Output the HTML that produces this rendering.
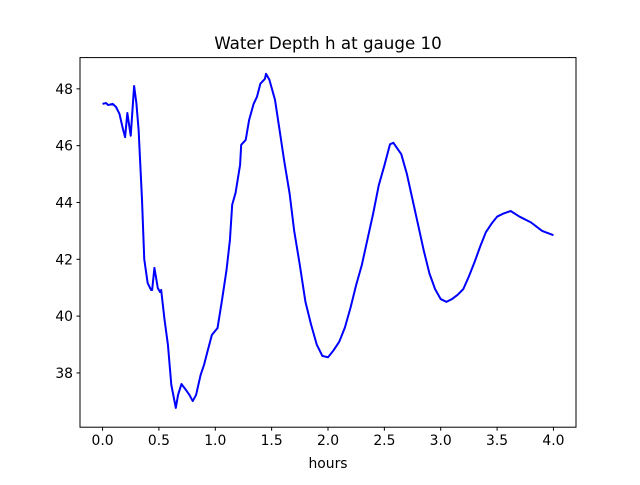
<!DOCTYPE html>
<html><head><meta charset="utf-8"><style>
body{margin:0;background:#fff}
svg text{font-family:"DejaVu Sans","Liberation Sans",sans-serif;fill:#000}
</style></head><body>
<svg id="chart" width="640" height="480">
<rect x="0" y="0" width="640" height="480" fill="#fff"/>
<text x="328" y="49" font-size="16.7" text-anchor="middle">Water Depth h at gauge 10</text>
<g id="plot"></g>
<rect x="80" y="57.6" width="496" height="369.6" fill="none" stroke="#000" stroke-width="1"/>
<text x="328" y="468" font-size="13.9" text-anchor="middle">hours</text>
</svg>
<script>
const hours=[0,0.03,0.05,0.09,0.12,0.15,0.18,0.2,0.22,0.25,0.28,0.3,0.32,0.35,0.37,0.4,0.43,0.44,0.46,0.49,0.51,0.52,0.55,0.58,0.61,0.65,0.67,0.7,0.74,0.77,0.8,0.83,0.87,0.9,0.93,0.97,1.02,1.06,1.1,1.13,1.15,1.18,1.22,1.23,1.27,1.3,1.34,1.37,1.4,1.44,1.45,1.48,1.53,1.57,1.61,1.66,1.7,1.75,1.8,1.85,1.9,1.95,2.0,2.05,2.1,2.15,2.2,2.25,2.3,2.35,2.4,2.45,2.5,2.55,2.58,2.65,2.7,2.75,2.8,2.85,2.9,2.95,3.0,3.05,3.1,3.15,3.2,3.25,3.3,3.35,3.4,3.45,3.5,3.55,3.62,3.7,3.8,3.9,4.0];
const depth=[47.47,47.5,47.43,47.47,47.36,47.12,46.6,46.3,47.15,46.35,48.1,47.5,46.55,44.1,42.0,41.17,40.92,40.92,41.7,40.99,40.85,40.92,39.87,38.99,37.58,36.77,37.23,37.61,37.4,37.23,37.01,37.23,37.93,38.28,38.74,39.34,39.58,40.57,41.63,42.68,43.92,44.34,45.32,46.03,46.2,46.9,47.47,47.72,48.18,48.35,48.53,48.32,47.61,46.56,45.5,44.3,43.0,41.8,40.5,39.7,39.0,38.6,38.55,38.8,39.1,39.6,40.3,41.1,41.8,42.7,43.6,44.6,45.3,46.05,46.1,45.7,45.0,44.1,43.2,42.3,41.5,40.95,40.6,40.5,40.6,40.75,40.95,41.4,41.9,42.45,42.95,43.25,43.5,43.6,43.7,43.5,43.3,43.0,42.85];
const xTicks=[0.0,0.5,1.0,1.5,2.0,2.5,3.0,3.5,4.0];
const xTickLabels=["0.0","0.5","1.0","1.5","2.0","2.5","3.0","3.5","4.0"];
const yTicks=[38,40,42,44,46,48];
const yTickLabels=["38","40","42","44","46","48"];
const L=80,R=576,T=57.6,B=427.2;
const xMin=-0.2,xMax=4.2,yMin=36.09,yMax=49.1;
const sx=v=>L+(v-xMin)/(xMax-xMin)*(R-L);
const sy=v=>B-(v-yMin)/(yMax-yMin)*(B-T);
const NS="http://www.w3.org/2000/svg";
const g=document.getElementById('plot');
xTicks.forEach((t,i)=>{
 const l=document.createElementNS(NS,'line');
 l.setAttribute('x1',sx(t));l.setAttribute('x2',sx(t));l.setAttribute('y1',B);l.setAttribute('y2',B+3.5);l.setAttribute('stroke','#000');
 
 
 g.appendChild(l);
 const tx=document.createElementNS(NS,'text');
 tx.setAttribute('x',sx(t));tx.setAttribute('y',B+18);tx.setAttribute('font-size','13.9');tx.setAttribute('text-anchor','middle');
 tx.textContent=xTickLabels[i];
 
 
 g.appendChild(tx);
});
yTicks.forEach((t,i)=>{
 const l=document.createElementNS(NS,'line');
 l.setAttribute('x1',L-3.5);l.setAttribute('x2',L);l.setAttribute('y1',sy(t));l.setAttribute('y2',sy(t));l.setAttribute('stroke','#000');
 
 
 g.appendChild(l);
 const tx=document.createElementNS(NS,'text');
 tx.setAttribute('x',L-7);tx.setAttribute('y',sy(t)+5);tx.setAttribute('font-size','13.9');tx.setAttribute('text-anchor','end');
 tx.textContent=yTickLabels[i];
 
 
 g.appendChild(tx);
});
const p=document.createElementNS(NS,'polyline');
p.setAttribute('points',hours.map((h,i)=>sx(h)+','+sy(depth[i])).join(' '));
p.setAttribute('fill','none');p.setAttribute('stroke','#0000ff');p.setAttribute('stroke-width','2');p.setAttribute('stroke-linejoin','round');


g.appendChild(p);
</script>
</body></html>
